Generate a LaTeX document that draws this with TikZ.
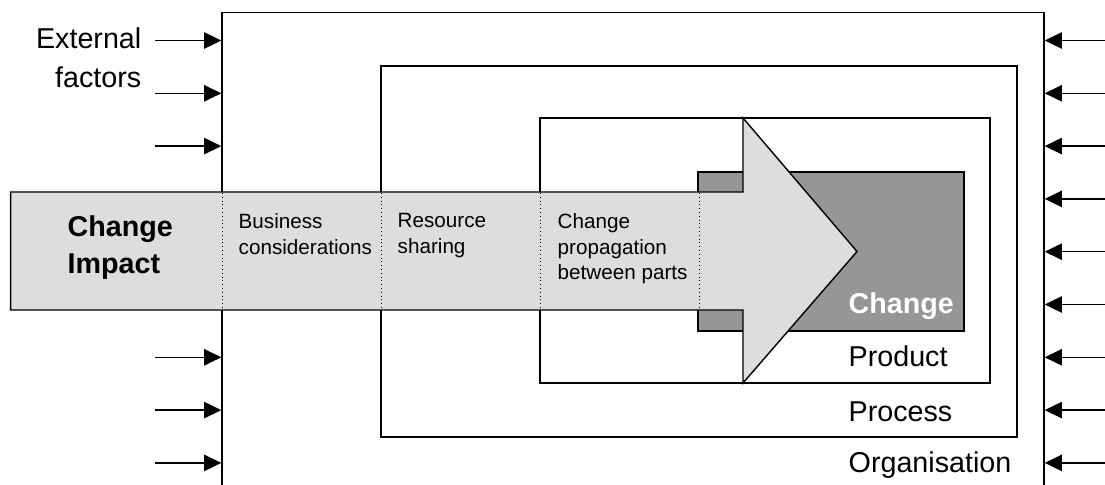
\documentclass[tikz,border=0pt]{standalone}
\usepackage{fontspec}
\setmainfont{Liberation Sans}
\usepackage{tikz}
\usetikzlibrary{positioning, arrows.meta, fit}
\definecolor{grigiofreccia}{HTML}{DDDDDD}
\definecolor{grigiocambio}{HTML}{969696}
\newcommand{\testogrande}{\fontsize{20.4}{27.8}\selectfont}
\newcommand{\testopiccolo}{\fontsize{14.7}{18.2}\selectfont}

\begin{document}
\begin{tikzpicture}[x=0.025cm, y=-0.025cm, line width=1pt,
  cornice/.style={draw, inner sep=0pt},
  fattore/.style={-{Triangle[length=4.3mm, width=4.1mm]}},
  etichetta/.style={inner sep=0pt, align=left, anchor=north west, font=\testopiccolo},
  livello/.style={inner sep=0pt, anchor=base west, font=\testogrande}]
  \useasboundingbox (0,0) rectangle (1105,485);
  \clip (0,0) rectangle (1105,485);
  % cornici annidate (1 unita' = 1 pixel)
  \coordinate (orgNO) at (222,12.7);
  \coordinate (orgSE) at (1044,520);
  \node[cornice, fit=(orgNO)(orgSE)] (org) {};
  \coordinate (proNO) at (381,66);
  \coordinate (proSE) at (1017,437);
  \node[cornice, fit=(proNO)(proSE)] (processo) {};
  \coordinate (prdNO) at (540,118);
  \coordinate (prdSE) at (990,383);
  \node[cornice, fit=(prdNO)(prdSE)] (prodotto) {};
  \coordinate (cmbNO) at (698,172);
  \coordinate (cmbSE) at (964,331);
  \node[cornice, fill=grigiocambio, fit=(cmbNO)(cmbSE)] (cambio) {};
  % fattori esterni
  \foreach \y in {40.5, 93.3, 146.1, 357.3, 410.1, 462.9}{
    \coordinate (sx) at (155,\y);
    \draw[fattore] (sx) -- (sx -| org.west);
  }
  \foreach \y in {40.5, 93.3, 146.1, 198.9, 251.7, 304.5, 357.3, 410.1, 462.9}{
    \coordinate (dx) at (1106,\y);
    \draw[fattore] (dx) -- (dx -| org.east);
  }
  % freccia dell'impatto
  \draw[fill=grigiofreccia] (10.7,192) -- (743,192) -- (743,118) -- (857,251.5)
       -- (743,383) -- (743,310) -- (10.7,310) -- cycle;
  \foreach \x in {222, 381, 540, 699}{
    \draw[dotted, line width=0.7pt] (\x,193) -- (\x,309);
  }
  % testi
  \node[inner sep=0pt, anchor=north east, align=right, font=\testogrande] (esterni) at (142,27) {External\\factors};
  \node[etichetta, font=\fontsize{20.4}{26.2}\selectfont\bfseries] (impatto) at (67,215) {Change\\Impact};
  \node[etichetta] (affari) at (238,213) {Business\\considerations};
  \node[etichetta] (risorse) at (397,213) {Resource\\sharing};
  \node[etichetta] (propagazione) at (557,213) {Change\\propagation\\between parts};
  \node[livello, font=\testogrande\bfseries, text=white] (testocambio) at (848,313) {Change};
  \node[livello] (testoprodotto) at (848,366) {Product};
  \node[livello] (testoprocesso) at (848,421) {Process};
  \node[livello] (testoorg) at (848,472) {Organisation};
\end{tikzpicture}
\end{document}
